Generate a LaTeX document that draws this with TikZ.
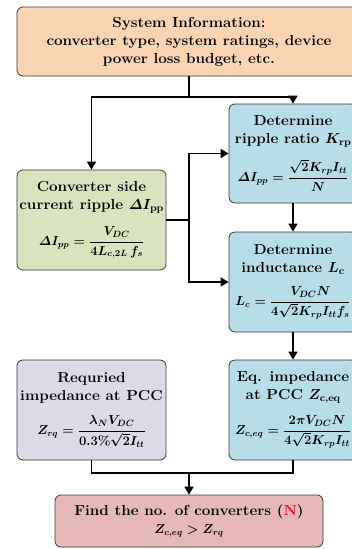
\RequirePackage{fix-cm}
\documentclass[tikz,border=0pt]{standalone}
\usepackage{amsmath}
\usepackage{fontspec}
\setmainfont{Latin Modern Roman}[FakeStretch=1.05]
\usetikzlibrary{arrows.meta}
\definecolor{peach}{HTML}{FBD4B4}
\definecolor{lblue}{HTML}{B7DEE8}
\definecolor{lgreen}{HTML}{D7E4BD}
\definecolor{lpurple}{HTML}{DED9E6}
\definecolor{lred}{HTML}{E6B9B8}
\definecolor{bord}{HTML}{3A3A3A}
\newcommand{\eqsize}{\fontsize{13}{15}\selectfont}
\begin{document}
\begin{tikzpicture}[x=1pt,y=-1pt,
  box/.style={draw=bord, line width=0.8pt, rounded corners=6pt, align=center,
    font=\fontsize{14.5}{18}\selectfont\bfseries\boldmath, inner sep=0pt},
  ln/.style={line width=1.7pt},
  arr/.style={line width=1.7pt, -{Triangle[length=8pt,width=9pt]}}]
\clip (0,0) rectangle (352,549);
\useasboundingbox (0,0) rectangle (352,549);
\node[box, fill=peach, minimum width=344pt, minimum height=69pt] (sys) at (189,41.5)
  {System Information:\\converter type, system ratings, device\\power loss budget, etc.};
\node[box, fill=lgreen, minimum width=149pt, minimum height=100pt] (conv) at (91.5,220)
  {Converter side\\current ripple $\varDelta I_{\mathrm{pp}}$\\[12pt]
   {\eqsize$\displaystyle \varDelta I_{pp}=\frac{V_{DC}}{4L_{c,2L}\,f_s}$}};
\node[box, fill=lblue, minimum width=128pt, minimum height=99pt] (rip) at (293,153.5)
  {Determine\\ripple ratio $K_{\mathrm{rp}}$\\[11pt]
   {\eqsize$\displaystyle \varDelta I_{pp}=\frac{\sqrt{2}K_{rp}I_{tt}}{N}$}};
\node[box, fill=lblue, minimum width=128pt, minimum height=100pt] (ind) at (293,282)
  {Determine\\inductance $L_{\mathrm{c}}$\\[11pt]
   {\eqsize$\displaystyle L_c=\frac{V_{DC}N}{4\sqrt{2}K_{rp}I_{tt}f_s}$}};
\node[box, fill=lblue, minimum width=128pt, minimum height=100pt] (eq) at (293,410)
  {Eq. impedance\\at PCC $Z_{\mathrm{c,eq}}$\\[11pt]
   {\eqsize$\displaystyle Z_{c,eq}=\frac{2\pi V_{DC}N}{4\sqrt{2}K_{rp}I_{tt}}$}};
\node[box, fill=lpurple, minimum width=149pt, minimum height=100pt] (req) at (91.5,410)
  {Requried\\impedance at PCC\\[11pt]
   {\eqsize$\displaystyle Z_{rq}=\frac{\lambda_N V_{DC}}{0.3\%\sqrt{2}I_{tt}}$}};
\node[box, fill=lred, minimum width=268pt, minimum height=52pt] (find) at (189,521)
  {Find the no. of converters (\textcolor{red}{N})\\
   {\eqsize$Z_{c,eq}>Z_{rq}$}};
\coordinate (j1) at (189,97);
\coordinate (j2) at (189,220);
\coordinate (j3) at (189,473);
\draw[ln] (sys.south) -- (j1);
\draw[arr] (j1) -| (conv.north);
\draw[arr] (j1) -| (rip.north);
\draw[ln] (conv.east) -- (j2);
\draw[arr] (j2) |- (rip.west);
\draw[arr] (j2) |- (ind.west);
\draw[arr] (rip.south) -- (ind.north);
\draw[arr] (ind.south) -- (eq.north);
\draw[ln] (req.south) |- (j3) -| (eq.south);
\draw[arr] (j3) -- (find.north);
\end{tikzpicture}
\end{document}
